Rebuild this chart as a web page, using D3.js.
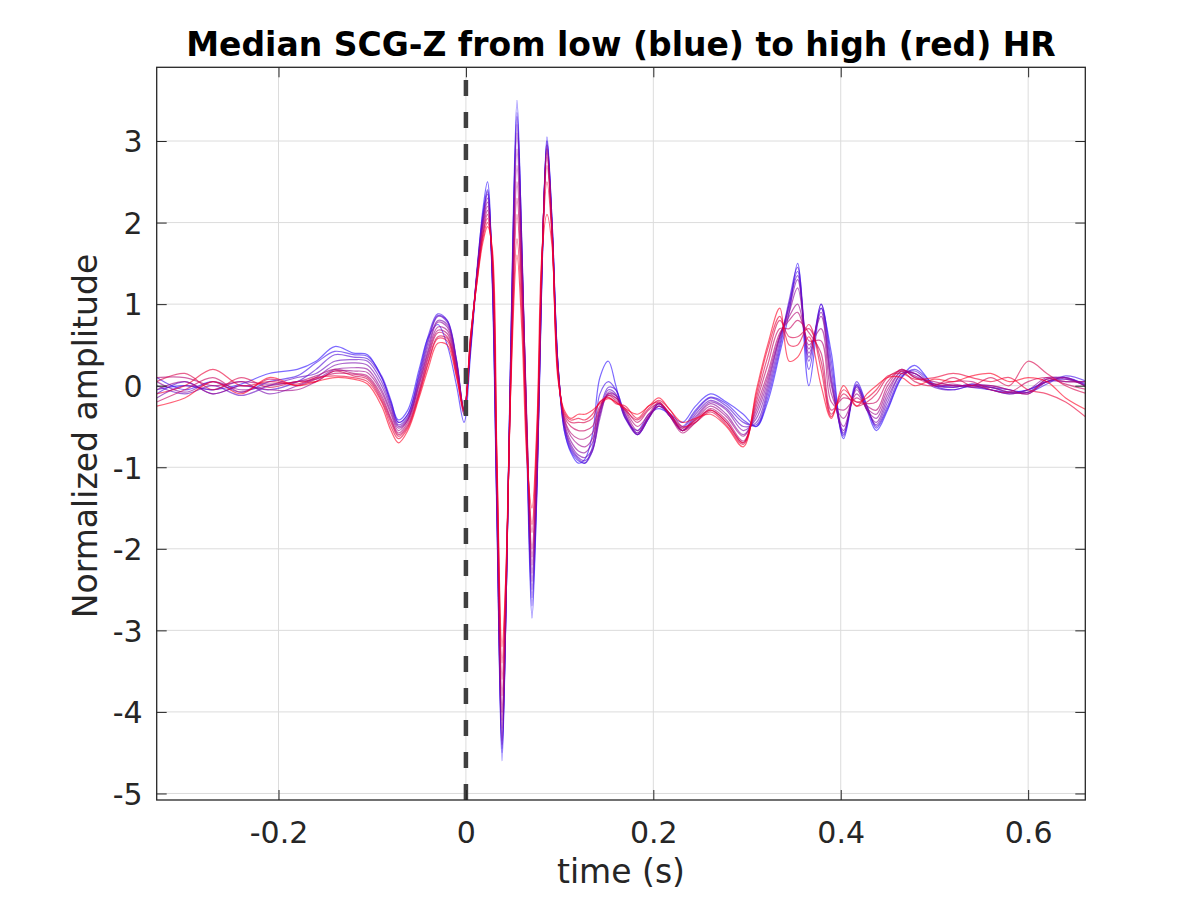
<!DOCTYPE html>
<html>
<head>
<meta charset="utf-8">
<script src="https://cdn.jsdelivr.net/npm/d3@7"></script>
<style>
  html, body { margin: 0; padding: 0; background: #ffffff; }
  svg { display: block; }
  text { font-family: "DejaVu Sans", sans-serif; }
</style>
</head>
<body>
<svg id="chart" width="1200" height="900"></svg>
<script>
// ---------------- DATA ----------------
const titleText = "Median SCG-Z from low (blue) to high (red) HR";
const xLabelText = "time (s)";
const yLabelText = "Normalized amplitude";

const xTicks = [-0.2, 0, 0.2, 0.4, 0.6];
const xTickLabels = ["-0.2", "0", "0.2", "0.4", "0.6"];
const yTicks = [-5, -4, -3, -2, -1, 0, 1, 2, 3];
const yTickLabels = ["-5", "-4", "-3", "-2", "-1", "0", "1", "2", "3"];
const xDomain = [-0.33, 0.661];
const yDomain = [-5.08, 3.904];

// sample times (s)
const times = [
  -0.33, -0.30, -0.27, -0.24, -0.21, -0.18, -0.16, -0.14, -0.12, -0.105,
  -0.09, -0.08, -0.072, -0.062, -0.05, -0.04, -0.03, -0.02, -0.01, -0.002,
  0.005, 0.012, 0.018, 0.023, 0.028, 0.033, 0.0385, 0.043, 0.048, 0.0545,
  0.06, 0.065, 0.0705, 0.076, 0.081, 0.0865, 0.092, 0.098, 0.105, 0.112,
  0.12, 0.127, 0.135, 0.143, 0.152, 0.16, 0.17, 0.183, 0.195, 0.206,
  0.218, 0.231, 0.245, 0.261, 0.278, 0.296, 0.31, 0.322, 0.335, 0.345,
  0.354, 0.366, 0.379, 0.39, 0.403, 0.417, 0.428, 0.438, 0.45, 0.465,
  0.479, 0.5, 0.52, 0.54, 0.56, 0.58, 0.6, 0.62, 0.64, 0.663
];

// median SCG-Z beats, ordered from low HR (blue) to high HR (red)
const hr01 = [
  -0.05, 0.0, -0.05, 0.02, 0.15, 0.2, 0.3, 0.48, 0.4, 0.38,
  0.1, -0.2, -0.42, -0.3, 0.2, 0.6, 0.75, 0.5, 0.0, -0.45,
  0.4, 1.4, 2.15, 2.5, 1.3, -1.6, -4.6, -2.6, 0.6, 3.5,
  1.5, -0.8, -2.85, -1.2, 1.3, 3.05, 2.0, 0.3, -0.55, -0.82,
  -0.95, -0.9, -0.6, 0.1, 0.3, 0.0, -0.4, -0.55, -0.35, -0.28,
  -0.35, -0.45, -0.25, -0.1, -0.2, -0.35, -0.5, -0.2, 0.4, 0.9,
  1.5, 0.0, 0.95, 0.4, -0.65, 0.0, -0.3, -0.55, -0.3, 0.1,
  0.25, 0.0, -0.05, 0.0, -0.05, -0.08, -0.05, 0.05, 0.1, 0.0
];
const hr02 = [
  0.1, -0.05, 0.05, -0.08, 0.05, 0.12, 0.28, 0.42, 0.38, 0.36,
  0.12, -0.18, -0.45, -0.35, 0.15, 0.62, 0.88, 0.8, 0.3, -0.35,
  0.45, 1.45, 2.1, 2.4, 1.35, -1.5, -4.5, -2.6, 0.5, 3.35,
  1.6, -0.7, -2.7, -1.2, 1.3, 3.0, 2.0, 0.3, -0.55, -0.8,
  -0.92, -0.95, -0.75, -0.1, 0.05, -0.05, -0.35, -0.6, -0.4, -0.22,
  -0.35, -0.5, -0.3, -0.14, -0.22, -0.42, -0.5, -0.15, 0.45, 1.0,
  1.4, 0.2, 1.0, 0.3, -0.6, 0.05, -0.25, -0.52, -0.28, 0.1,
  0.2, 0.02, -0.02, 0.02, -0.02, -0.05, -0.08, 0.02, 0.12, 0.05
];
const hr03 = [
  -0.1, 0.05, -0.1, 0.0, -0.05, 0.05, 0.2, 0.38, 0.35, 0.33,
  0.1, -0.22, -0.45, -0.35, 0.12, 0.58, 0.86, 0.8, 0.32, -0.3,
  0.5, 1.4, 2.05, 2.38, 1.4, -1.5, -4.45, -2.6, 0.5, 3.3,
  1.6, -0.6, -2.6, -1.1, 1.35, 3.0, 1.95, 0.3, -0.5, -0.78,
  -0.9, -0.95, -0.8, -0.3, -0.02, -0.05, -0.38, -0.58, -0.38, -0.25,
  -0.38, -0.52, -0.32, -0.15, -0.25, -0.45, -0.48, -0.1, 0.5, 1.05,
  1.45, 0.3, 1.0, 0.2, -0.62, 0.02, -0.25, -0.5, -0.25, 0.12,
  0.18, 0.0, 0.0, -0.02, -0.05, -0.1, -0.05, 0.05, 0.08, 0.02
];
const hr04 = [
  0.0, -0.1, 0.0, -0.12, 0.0, 0.1, 0.15, 0.3, 0.32, 0.3,
  0.05, -0.25, -0.48, -0.38, 0.08, 0.55, 0.85, 0.78, 0.3, -0.32,
  0.48, 1.42, 2.05, 2.35, 1.4, -1.4, -4.4, -2.6, 0.4, 3.2,
  1.5, -0.6, -2.5, -1.1, 1.4, 2.95, 1.95, 0.28, -0.5, -0.75,
  -0.88, -0.92, -0.8, -0.35, -0.05, -0.1, -0.4, -0.6, -0.4, -0.22,
  -0.38, -0.55, -0.35, -0.18, -0.28, -0.5, -0.45, -0.05, 0.55, 1.0,
  1.35, 0.35, 0.95, 0.1, -0.58, 0.0, -0.28, -0.48, -0.2, 0.15,
  0.15, -0.02, -0.05, 0.0, -0.02, -0.08, -0.08, 0.08, 0.1, -0.02
];
const hr05 = [
  -0.15, 0.0, -0.05, 0.05, -0.1, 0.0, 0.1, 0.25, 0.28, 0.25,
  0.0, -0.28, -0.5, -0.4, 0.05, 0.5, 0.8, 0.75, 0.28, -0.3,
  0.5, 1.4, 2.0, 2.3, 1.45, -1.35, -4.35, -2.6, 0.4, 3.1,
  1.5, -0.5, -2.4, -1.0, 1.4, 2.95, 1.9, 0.28, -0.48, -0.72,
  -0.85, -0.88, -0.78, -0.4, -0.08, -0.12, -0.38, -0.6, -0.4, -0.25,
  -0.35, -0.55, -0.38, -0.2, -0.3, -0.55, -0.4, 0.0, 0.6, 0.95,
  1.3, 0.4, 0.9, 0.05, -0.55, -0.02, -0.3, -0.45, -0.15, 0.15,
  0.15, 0.0, -0.02, 0.02, 0.0, -0.05, -0.1, 0.05, 0.05, 0.05
];
const hr06 = [
  0.05, -0.08, 0.05, -0.05, 0.0, 0.05, 0.08, 0.2, 0.22, 0.2,
  -0.05, -0.32, -0.52, -0.42, 0.02, 0.45, 0.78, 0.72, 0.25, -0.3,
  0.52, 1.38, 1.98, 2.25, 1.5, -1.3, -4.2, -2.5, 0.3, 2.9,
  1.4, -0.5, -2.3, -1.0, 1.4, 2.9, 1.9, 0.25, -0.45, -0.68,
  -0.8, -0.82, -0.7, -0.35, -0.1, -0.12, -0.35, -0.58, -0.38, -0.22,
  -0.38, -0.55, -0.4, -0.22, -0.35, -0.6, -0.35, 0.05, 0.6, 0.9,
  1.2, 0.45, 0.85, 0.0, -0.5, -0.05, -0.3, -0.4, -0.1, 0.18,
  0.12, 0.02, 0.0, 0.0, -0.05, -0.1, -0.05, 0.1, 0.08, 0.0
];
const hr07 = [
  -0.05, 0.05, -0.1, 0.0, -0.05, -0.05, 0.05, 0.18, 0.18, 0.16,
  -0.08, -0.35, -0.55, -0.42, 0.0, 0.42, 0.72, 0.68, 0.22, -0.28,
  0.55, 1.4, 1.95, 2.2, 1.5, -1.2, -4.1, -2.5, 0.3, 2.7,
  1.4, -0.4, -2.2, -0.9, 1.45, 2.9, 1.9, 0.25, -0.42, -0.62,
  -0.72, -0.75, -0.65, -0.3, -0.1, -0.15, -0.32, -0.55, -0.38, -0.25,
  -0.35, -0.55, -0.42, -0.25, -0.38, -0.62, -0.3, 0.1, 0.62, 0.85,
  1.0, 0.5, 0.7, -0.1, -0.4, -0.1, -0.28, -0.35, -0.05, 0.18,
  0.15, 0.0, 0.02, -0.02, -0.02, -0.08, -0.08, 0.05, 0.1, -0.02
];
const hr08 = [
  0.1, 0.1, 0.0, 0.05, 0.02, 0.05, 0.12, 0.2, 0.15, 0.12,
  -0.12, -0.4, -0.58, -0.45, -0.05, 0.38, 0.68, 0.64, 0.2, -0.3,
  0.55, 1.35, 1.9, 2.15, 1.55, -1.1, -4.0, -2.4, 0.2, 2.5,
  1.2, -0.5, -2.1, -0.8, 1.5, 2.85, 1.9, 0.22, -0.4, -0.58,
  -0.65, -0.65, -0.58, -0.28, -0.12, -0.15, -0.3, -0.5, -0.35, -0.2,
  -0.38, -0.58, -0.45, -0.28, -0.42, -0.68, -0.25, 0.15, 0.65, 0.8,
  0.9, 0.55, 0.55, -0.2, -0.3, -0.15, -0.25, -0.3, 0.0, 0.2,
  0.1, 0.05, 0.0, 0.0, 0.0, -0.05, -0.1, 0.08, 0.05, 0.05
];
const hr09 = [
  -0.2, -0.05, 0.1, -0.08, 0.08, 0.0, 0.08, 0.15, 0.14, 0.1,
  -0.15, -0.42, -0.6, -0.48, -0.08, 0.35, 0.65, 0.6, 0.18, -0.32,
  0.58, 1.35, 1.85, 2.1, 1.6, -1.0, -3.8, -2.4, 0.2, 2.3,
  1.1, -0.6, -2.0, -0.7, 1.5, 2.8, 1.85, 0.2, -0.38, -0.5,
  -0.55, -0.55, -0.5, -0.25, -0.12, -0.18, -0.28, -0.45, -0.3, -0.22,
  -0.35, -0.55, -0.45, -0.3, -0.45, -0.7, -0.2, 0.25, 0.7, 0.7,
  0.8, 0.65, 0.4, -0.3, -0.15, -0.2, -0.22, -0.2, 0.05, 0.2,
  0.1, 0.02, 0.05, 0.05, -0.05, -0.08, 0.05, 0.1, 0.02, -0.05
];
const hr10 = [
  0.05, 0.15, -0.05, 0.1, -0.02, 0.05, 0.05, 0.18, 0.12, 0.08,
  -0.18, -0.45, -0.62, -0.5, -0.1, 0.3, 0.6, 0.58, 0.15, -0.3,
  0.6, 1.3, 1.85, 2.05, 1.6, -0.95, -3.6, -2.3, 0.1, 2.1,
  1.0, -0.7, -1.8, -0.6, 1.5, 2.7, 1.85, 0.18, -0.35, -0.45,
  -0.45, -0.45, -0.4, -0.2, -0.15, -0.2, -0.3, -0.42, -0.28, -0.18,
  -0.3, -0.5, -0.45, -0.32, -0.48, -0.72, -0.15, 0.35, 0.8, 0.6,
  0.6, 0.7, 0.3, -0.35, -0.1, -0.25, -0.2, -0.1, 0.1, 0.18,
  0.05, 0.0, 0.1, 0.0, 0.1, 0.0, 0.3, 0.15, 0.0, -0.1
];
const hr11 = [
  -0.1, 0.0, 0.2, 0.0, 0.05, 0.02, 0.1, 0.12, 0.1, 0.05,
  -0.2, -0.5, -0.65, -0.52, -0.12, 0.28, 0.58, 0.55, 0.12, -0.35,
  0.6, 1.3, 1.8, 2.0, 1.65, -0.9, -3.4, -2.2, 0.1, 1.8,
  0.8, -0.8, -1.7, -0.5, 1.55, 2.5, 1.8, 0.15, -0.33, -0.42,
  -0.4, -0.42, -0.35, -0.2, -0.14, -0.22, -0.25, -0.4, -0.25, -0.2,
  -0.35, -0.52, -0.42, -0.3, -0.45, -0.7, -0.1, 0.45, 0.85, 0.5,
  0.5, 0.75, 0.2, -0.38, -0.05, -0.2, -0.15, -0.05, 0.12, 0.15,
  0.08, 0.1, 0.15, 0.1, 0.05, 0.1, -0.05, -0.1, -0.2, -0.4
];
const hr12 = [
  -0.25, -0.15, 0.05, -0.1, 0.1, 0.0, 0.05, 0.1, 0.08, 0.02,
  -0.25, -0.55, -0.7, -0.55, -0.15, 0.22, 0.52, 0.5, 0.1, -0.3,
  0.62, 1.28, 1.75, 1.95, 1.7, -0.8, -3.2, -2.2, 0.0, 1.6,
  0.6, -0.9, -1.5, -0.4, 1.6, 2.1, 1.7, 0.1, -0.3, -0.4,
  -0.35, -0.35, -0.3, -0.22, -0.16, -0.2, -0.28, -0.35, -0.25, -0.15,
  -0.3, -0.45, -0.4, -0.35, -0.5, -0.75, -0.05, 0.5, 0.95, 0.3,
  0.35, 0.6, 0.0, -0.4, 0.0, -0.25, -0.1, 0.0, 0.1, 0.1,
  0.0, 0.08, 0.05, 0.12, 0.15, 0.05, 0.1, 0.05, -0.15, -0.3
];

const traces = [hr01, hr02, hr03, hr04, hr05, hr06, hr07, hr08, hr09, hr10, hr11, hr12];

// ---------------- LAYOUT ----------------
const plot = { left: 156.7, top: 67.3, right: 1085.3, bottom: 800 };
const svg = d3.select("#chart");

const x = d3.scaleLinear().domain(xDomain).range([plot.left, plot.right]);
const y = d3.scaleLinear().domain(yDomain).range([plot.bottom, plot.top]);

const axisColor = "#262626";
const gridColor = "#dcdcdc";

// clip
svg.append("defs").append("clipPath").attr("id", "plotclip")
  .append("rect")
  .attr("x", plot.left).attr("y", plot.top)
  .attr("width", plot.right - plot.left).attr("height", plot.bottom - plot.top);

// grid
const grid = svg.append("g");
grid.selectAll("line.gx").data(xTicks).enter().append("line")
  .attr("x1", d => x(d)).attr("x2", d => x(d))
  .attr("y1", plot.top).attr("y2", plot.bottom)
  .attr("stroke", gridColor).attr("stroke-width", 1);
grid.selectAll("line.gy").data(yTicks).enter().append("line")
  .attr("y1", d => y(d)).attr("y2", d => y(d))
  .attr("x1", plot.left).attr("x2", plot.right)
  .attr("stroke", gridColor).attr("stroke-width", 1);

// traces
const color = d3.scaleLinear()
  .domain([0, traces.length - 1])
  .range(["rgb(45,15,255)", "rgb(255,0,35)"])
  .interpolate(d3.interpolateRgb);

const line = d3.line()
  .x((d, i) => x(times[i]))
  .y(d => y(d))
  .curve(d3.curveCatmullRom.alpha(0.5));

svg.append("g").attr("clip-path", "url(#plotclip)")
  .selectAll("path").data(traces).enter().append("path")
  .attr("d", d => line(d))
  .attr("fill", "none")
  .attr("stroke", (d, i) => color(i))
  .attr("stroke-opacity", 0.62)
  .attr("stroke-width", 1.2)
  .attr("stroke-linejoin", "round");

// dashed zero line
svg.append("line")
  .attr("x1", x(0)).attr("x2", x(0))
  .attr("y1", plot.bottom).attr("y2", plot.top)
  .attr("stroke", "#404040")
  .attr("stroke-width", 4.5)
  .attr("stroke-dasharray", "16,16");

// axes
const xAxisB = d3.axisBottom(x).tickValues(xTicks)
  .tickFormat((d, i) => xTickLabels[i]).tickSizeInner(-10).tickSizeOuter(0).tickPadding(0);
const gxb = svg.append("g").attr("transform", `translate(0,${plot.bottom})`).call(xAxisB);
gxb.select(".domain").remove();
gxb.selectAll("line").attr("stroke", axisColor);
gxb.selectAll("text").attr("y", 43).attr("dy", null)
  .style("font-size", "30px").style("font-family", "DejaVu Sans").style("fill", axisColor);

const xAxisT = d3.axisTop(x).tickValues(xTicks).tickFormat("").tickSizeInner(-10).tickSizeOuter(0);
const gxt = svg.append("g").attr("transform", `translate(0,${plot.top})`).call(xAxisT);
gxt.select(".domain").remove();
gxt.selectAll("line").attr("stroke", axisColor);

const yAxisL = d3.axisLeft(y).tickValues(yTicks)
  .tickFormat((d, i) => yTickLabels[i]).tickSizeInner(-10).tickSizeOuter(0).tickPadding(14);
const gyl = svg.append("g").attr("transform", `translate(${plot.left},0)`).call(yAxisL);
gyl.select(".domain").remove();
gyl.selectAll("line").attr("stroke", axisColor);
gyl.selectAll("text").attr("dy", "0.36em").attr("x", -14)
  .style("font-size", "30px").style("font-family", "DejaVu Sans").style("fill", axisColor);

const yAxisR = d3.axisRight(y).tickValues(yTicks).tickFormat("").tickSizeInner(-10).tickSizeOuter(0);
const gyr = svg.append("g").attr("transform", `translate(${plot.right},0)`).call(yAxisR);
gyr.select(".domain").remove();
gyr.selectAll("line").attr("stroke", axisColor);

// box
svg.append("rect")
  .attr("x", plot.left).attr("y", plot.top)
  .attr("width", plot.right - plot.left).attr("height", plot.bottom - plot.top)
  .attr("fill", "none").attr("stroke", axisColor).attr("stroke-width", 1.3);

// title and labels
svg.append("text")
  .attr("x", (plot.left + plot.right) / 2).attr("y", 56)
  .attr("text-anchor", "middle")
  .style("font-size", "33px").style("font-weight", "bold")
  .style("fill", "#000000")
  .text(titleText);

svg.append("text")
  .attr("x", (plot.left + plot.right) / 2).attr("y", 883)
  .attr("text-anchor", "middle")
  .style("font-size", "33px").style("fill", axisColor)
  .text(xLabelText);

svg.append("text")
  .attr("transform", `translate(97,436) rotate(-90)`)
  .attr("text-anchor", "middle")
  .style("font-size", "33px").style("fill", axisColor)
  .text(yLabelText);
</script>
</body>
</html>
